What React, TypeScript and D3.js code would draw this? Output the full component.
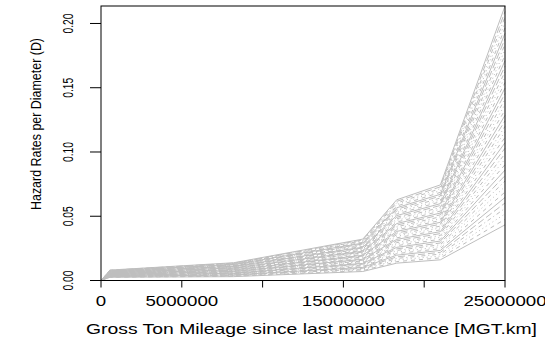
import * as d3 from "d3";

const width = 545;
const height = 343;
const margin = { top: 6, right: 40, bottom: 62.5, left: 101 };

// mileage (MGT.km) at which every curve changes slope
const mileage = [0, 550000, 8200000, 16200000, 18300000, 21000000, 25000000];
const hazardAtStart = 0;

// hazard rate of each curve, read column by column from bottom to top
const hazardAt550k = [
  0.0025, 0.0026, 0.0028, 0.0029, 0.0031, 0.0032, 0.0033, 0.0035, 0.0036, 0.0038,
  0.0039, 0.004, 0.0042, 0.0043, 0.0045, 0.0046, 0.0047, 0.0049, 0.005, 0.0052,
  0.0053, 0.0054, 0.0056, 0.0057, 0.0059, 0.006, 0.0061, 0.0063, 0.0064, 0.0066,
  0.0067, 0.0068, 0.007, 0.0071, 0.0073, 0.0074, 0.0075, 0.0077, 0.0078, 0.008,
  0.0081,
];
const hazardAt8M = [
  0.003, 0.0033, 0.0035, 0.0038, 0.0041, 0.0044, 0.0046, 0.0049, 0.0052, 0.0054,
  0.0057, 0.006, 0.0062, 0.0065, 0.0068, 0.0071, 0.0073, 0.0076, 0.0079, 0.0081,
  0.0084, 0.0087, 0.0089, 0.0092, 0.0095, 0.0098, 0.01, 0.0103, 0.0106, 0.0108,
  0.0111, 0.0114, 0.0116, 0.0119, 0.0122, 0.0125, 0.0127, 0.013, 0.0133, 0.0135,
  0.0138,
];
const hazardAt16M = [
  0.007, 0.0076, 0.0083, 0.0089, 0.0095, 0.0102, 0.0108, 0.0114, 0.012, 0.0127,
  0.0133, 0.0139, 0.0146, 0.0152, 0.0158, 0.0165, 0.0171, 0.0177, 0.0183, 0.019,
  0.0196, 0.0202, 0.0209, 0.0215, 0.0221, 0.0228, 0.0234, 0.024, 0.0246, 0.0253,
  0.0259, 0.0265, 0.0272, 0.0278, 0.0284, 0.0291, 0.0297, 0.0303, 0.0309, 0.0316,
  0.0322,
];
const hazardAt18M = [
  0.0135, 0.0147, 0.016, 0.0172, 0.0184, 0.0197, 0.0209, 0.0221, 0.0234, 0.0246,
  0.0258, 0.0271, 0.0283, 0.0295, 0.0308, 0.032, 0.0332, 0.0345, 0.0357, 0.0369,
  0.0382, 0.0394, 0.0406, 0.0418, 0.0431, 0.0443, 0.0455, 0.0468, 0.048, 0.0492,
  0.0505, 0.0517, 0.0529, 0.0542, 0.0554, 0.0566, 0.0579, 0.0591, 0.0603, 0.0616,
  0.0628,
];
const hazardAt21M = [
  0.0161, 0.0176, 0.019, 0.0205, 0.0219, 0.0234, 0.0248, 0.0263, 0.0278, 0.0292,
  0.0307, 0.0321, 0.0336, 0.035, 0.0365, 0.038, 0.0394, 0.0409, 0.0423, 0.0438,
  0.0453, 0.0467, 0.0482, 0.0496, 0.0511, 0.0525, 0.054, 0.0555, 0.0569, 0.0584,
  0.0598, 0.0613, 0.0627, 0.0642, 0.0657, 0.0671, 0.0686, 0.07, 0.0715, 0.0729,
  0.0744,
];
const hazardAt25M = [
  0.0433, 0.0476, 0.0518, 0.0561, 0.0603, 0.0646, 0.0688, 0.0731, 0.0774, 0.0816,
  0.0859, 0.0901, 0.0944, 0.0986, 0.1029, 0.1072, 0.1114, 0.1157, 0.1199, 0.1242,
  0.1285, 0.1327, 0.137, 0.1412, 0.1455, 0.1497, 0.154, 0.1583, 0.1625, 0.1668,
  0.171, 0.1753, 0.1795, 0.1838, 0.1881, 0.1923, 0.1966, 0.2008, 0.2051, 0.2093,
  0.2136,
];

const xTicks = [0, 5000000, 10000000, 15000000, 20000000, 25000000];
const xTickLabels = ["0", "5000000", "", "15000000", "", "25000000"];
const yTicks = [0, 0.05, 0.1, 0.15, 0.2];
const yTickLabels = ["0.00", "0.05", "0.10", "0.15", "0.20"];

// matplot style line types
const lineTypes = ["", "4 4", "1 3", "1 3 4 3", "7 3"];

const font = "'Liberation Sans', Arial, Helvetica, sans-serif";

export default function App() {
  const x = d3
    .scaleLinear()
    .domain([0, 25000000])
    .range([margin.left, width - margin.right]);
  const y = d3
    .scaleLinear()
    .domain([0, 0.2136])
    .range([height - margin.bottom, margin.top]);

  const columns = [hazardAt550k, hazardAt8M, hazardAt16M, hazardAt18M, hazardAt21M, hazardAt25M];
  const curves = hazardAt25M.map((_, i) => [hazardAtStart, ...columns.map((c) => c[i])]);

  const line = d3
    .line<number>()
    .x((_, i) => x(mileage[i]))
    .y((d) => y(d));

  const bottom = height - margin.bottom;

  return (
    <svg
      width={width}
      height={height}
      style={{ position: "absolute", left: 0, top: 0, background: "#fff" }}
      fontFamily={font}
    >
      <g>
        {curves.map((c, i) => (
          <path
            key={i}
            d={line(c) ?? ""}
            fill="none"
            stroke="#bebebe"
            strokeWidth={1}
            strokeDasharray={lineTypes[i % lineTypes.length] || undefined}
          />
        ))}
      </g>

      <rect
        x={margin.left}
        y={margin.top}
        width={width - margin.left - margin.right}
        height={bottom - margin.top}
        fill="none"
        stroke="#000"
        strokeWidth={1}
      />

      {/* x axis */}
      <g>
        {xTicks.map((t, i) => (
          <g key={t}>
            <line x1={x(t)} x2={x(t)} y1={bottom} y2={bottom + 7} stroke="#000" />
            {xTickLabels[i] && (
              <text
                x={x(t)}
                y={306}
                fontSize={14}
                textAnchor="middle"
                textLength={xTickLabels[i].length * 10.4}
                lengthAdjust="spacingAndGlyphs"
              >
                {xTickLabels[i]}
              </text>
            )}
          </g>
        ))}
        <text
          x={311.5}
          y={334}
          fontSize={15}
          textAnchor="middle"
          textLength={451}
          lengthAdjust="spacingAndGlyphs"
        >
          Gross Ton Mileage since last maintenance [MGT.km]
        </text>
      </g>

      {/* y axis */}
      <g>
        {yTicks.map((t, i) => (
          <g key={t}>
            <line x1={margin.left - 11} x2={margin.left} y1={y(t)} y2={y(t)} stroke="#000" />
            <text
              transform={`translate(73,${y(t)}) rotate(-90)`}
              fontSize={14}
              textAnchor="middle"
              textLength={20}
              lengthAdjust="spacingAndGlyphs"
            >
              {yTickLabels[i]}
            </text>
          </g>
        ))}
        <text
          transform={`translate(40.5,124) rotate(-90)`}
          fontSize={15}
          textAnchor="middle"
          textLength={172}
          lengthAdjust="spacingAndGlyphs"
        >
          Hazard Rates per Diameter (D)
        </text>
      </g>
    </svg>
  );
}
